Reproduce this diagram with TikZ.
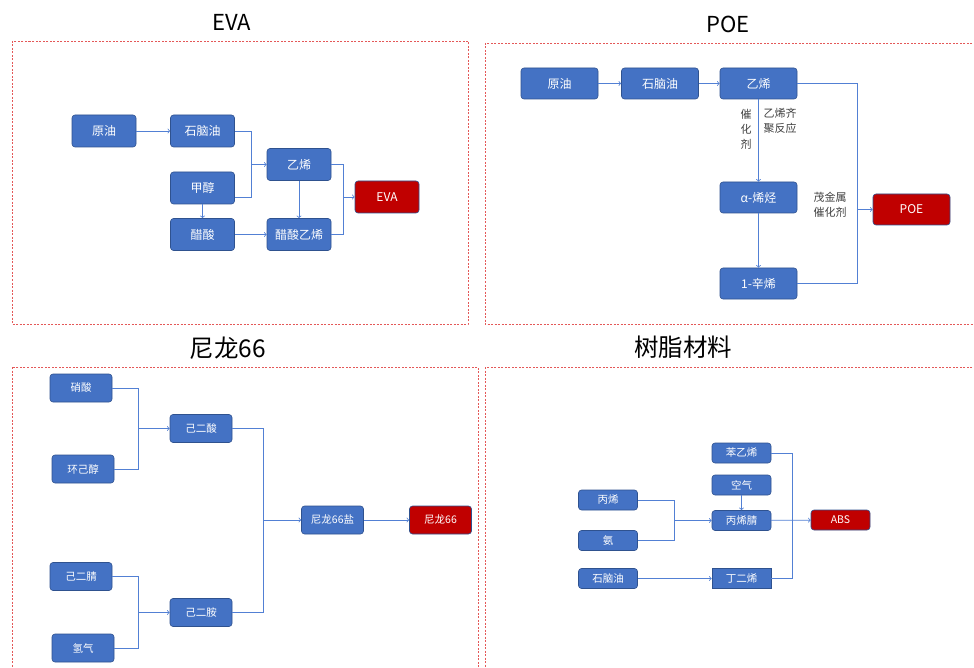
\documentclass[tikz,border=0pt]{standalone}
\usepackage{fontspec}
\setmainfont{Noto Sans CJK SC}
\usetikzlibrary{positioning}
\definecolor{boxblue}{RGB}{68,114,196}
\definecolor{boxedge}{RGB}{47,82,143}
\definecolor{boxred}{RGB}{192,0,0}
\definecolor{linkblue}{RGB}{82,128,212}
\definecolor{framered}{RGB}{228,88,88}
\definecolor{labelgray}{RGB}{64,64,64}
\begin{document}
\begin{tikzpicture}[x=1pt, y=-1pt, ->, color=linkblue, line width=0.8pt,
  main node/.style={rectangle, rounded corners=3pt, draw=boxedge, line width=0.6pt, fill=boxblue, text=white, inner sep=0pt},
  red node/.style={main node, fill=boxred},
  frame/.style={-, draw=framered, dash pattern=on 2pt off 1.5pt, line width=0.7pt},
  title/.style={text=black, font=\fontsize{22}{24}\selectfont},
  cjk title/.style={text=black, font=\fontsize{24.5}{26}\selectfont}]
    \tikzstyle{eva node}=[main node, minimum width=64pt, minimum height=32pt, font=\fontsize{12}{14}\selectfont]
    \tikzstyle{poe node}=[main node, minimum width=77pt, minimum height=31pt, font=\fontsize{12}{14}\selectfont]
    \tikzstyle{ny node}=[main node, minimum width=62pt, minimum height=28pt, font=\fontsize{10.5}{12}\selectfont]
    \tikzstyle{abs node}=[main node, minimum width=59pt, minimum height=20pt, font=\fontsize{10.5}{12}\selectfont]
    \tikzstyle{note}=[text=labelgray, align=center, inner sep=0pt, font=\fontsize{11}{15}\selectfont]

    \clip (0,0) rectangle (974,668);
    \fill[white] (0,0) rectangle (974,668);

      % EVA
      \node[title] (t1) at (232,22) {EVA};
      \draw[frame] (12,41) rectangle (468,324);
      \node[eva node] (11) at (104,131) {原油};
      \node[eva node] (12) at (202.5,131) {石脑油};
      \node[eva node] (13) at (202.5,188) {甲醇};
      \node[eva node] (14) at (202.5,234.5) {醋酸};
      \node[eva node] (15) at (299,164.5) {乙烯};
      \node[eva node] (16) at (299,234.5) {醋酸乙烯};
      \node[eva node, red node] (17) at (387,197) {EVA};
      \coordinate (j1) at (251,164.5);
      \coordinate (j2) at (343,197);

      \draw (11) -- (12);
      \draw[-] (12.east) -| (j1);
      \draw[-] ([yshift=-9pt]13.east) -| (j1);
      \draw (j1) -- (15);
      \draw (13) -- (14);
      \draw (15) -- (16);
      \draw (14) -- (16);
      \draw[-] (15.east) -| (j2);
      \draw[-] (16.east) -| (j2);
      \draw (j2) -- (17);

      % POE
      \node[title] (t2) at (728,24) {POE};
      \draw[frame] (485,43) rectangle (990,324);
      \node[poe node] (21) at (559.5,83.5) {原油};
      \node[poe node] (22) at (660,83.5) {石脑油};
      \node[poe node] (23) at (758.5,83.5) {乙烯};
      \node[poe node] (24) at (758.5,197.5) {α-烯烃};
      \node[poe node] (25) at (758.5,283.5) {1-辛烯};
      \node[poe node, red node] (26) at (911.5,209.5) {POE};
      \node[note] (27) at (746,129) {催\\化\\剂};
      \node[note] (28) at (780,121) {乙烯齐\\聚反应};
      \node[note] (29) at (830,205) {茂金属\\催化剂};
      \coordinate (j3) at (857,209.5);

      \draw (21) -- (22);
      \draw (22) -- (23);
      \draw (23) -- (24);
      \draw (24) -- (25);
      \draw[-] (23.east) -| (j3);
      \draw[-] (25.east) -| (j3);
      \draw (j3) -- (26);

      % nylon 66
      \node[cjk title] (t3) at (228,348) {尼龙66};
      \draw[frame] (12,367) rectangle (478,690);
      \node[ny node] (31) at (81,388) {硝酸};
      \node[ny node] (32) at (83,469) {环己醇};
      \node[ny node] (33) at (201,428.5) {己二酸};
      \node[ny node] (34) at (81,576.5) {己二腈};
      \node[ny node] (35) at (83,648) {氢气};
      \node[ny node] (36) at (201,612.5) {己二胺};
      \node[ny node] (37) at (332.5,520) {尼龙66盐};
      \node[ny node, red node] (38) at (440.5,520) {尼龙66};
      \coordinate (j4) at (138,428.5);
      \coordinate (j5) at (138,612.5);
      \coordinate (j6) at (263,520);

      \draw[-] (31.east) -| (j4);
      \draw[-] (32.east) -| (j4);
      \draw (j4) -- (33);
      \draw[-] (34.east) -| (j5);
      \draw[-] (35.east) -| (j5);
      \draw (j5) -- (36);
      \draw[-] (33.east) -| (j6);
      \draw[-] (36.east) -| (j6);
      \draw (j6) -- (37);
      \draw (37) -- (38);

      % resin
      \node[cjk title] (t4) at (683,347) {树脂材料};
      \draw[frame] (485,367) rectangle (990,690);
      \node[abs node] (41) at (741.5,453) {苯乙烯};
      \node[abs node] (42) at (741.5,485) {空气};
      \node[abs node] (43) at (741.5,520.5) {丙烯腈};
      \node[abs node, rounded corners=0pt] (44) at (741.5,578.5) {丁二烯};
      \node[abs node] (45) at (608,500) {丙烯};
      \node[abs node] (46) at (608,540.5) {氨};
      \node[abs node] (47) at (608,578.5) {石脑油};
      \node[abs node, red node] (48) at (840.5,520) {ABS};
      \coordinate (j7) at (674,520.5);
      \coordinate (j8) at (792,520.5);

      \draw[-] (45.east) -| (j7);
      \draw[-] (46.east) -| (j7);
      \draw (j7) -- (43);
      \draw (42) -- (43);
      \draw (47) -- (44);
      \draw[-] (41.east) -| (j8) |- (44.east);
      \draw (43) -- (48);

\end{tikzpicture}
\end{document}
